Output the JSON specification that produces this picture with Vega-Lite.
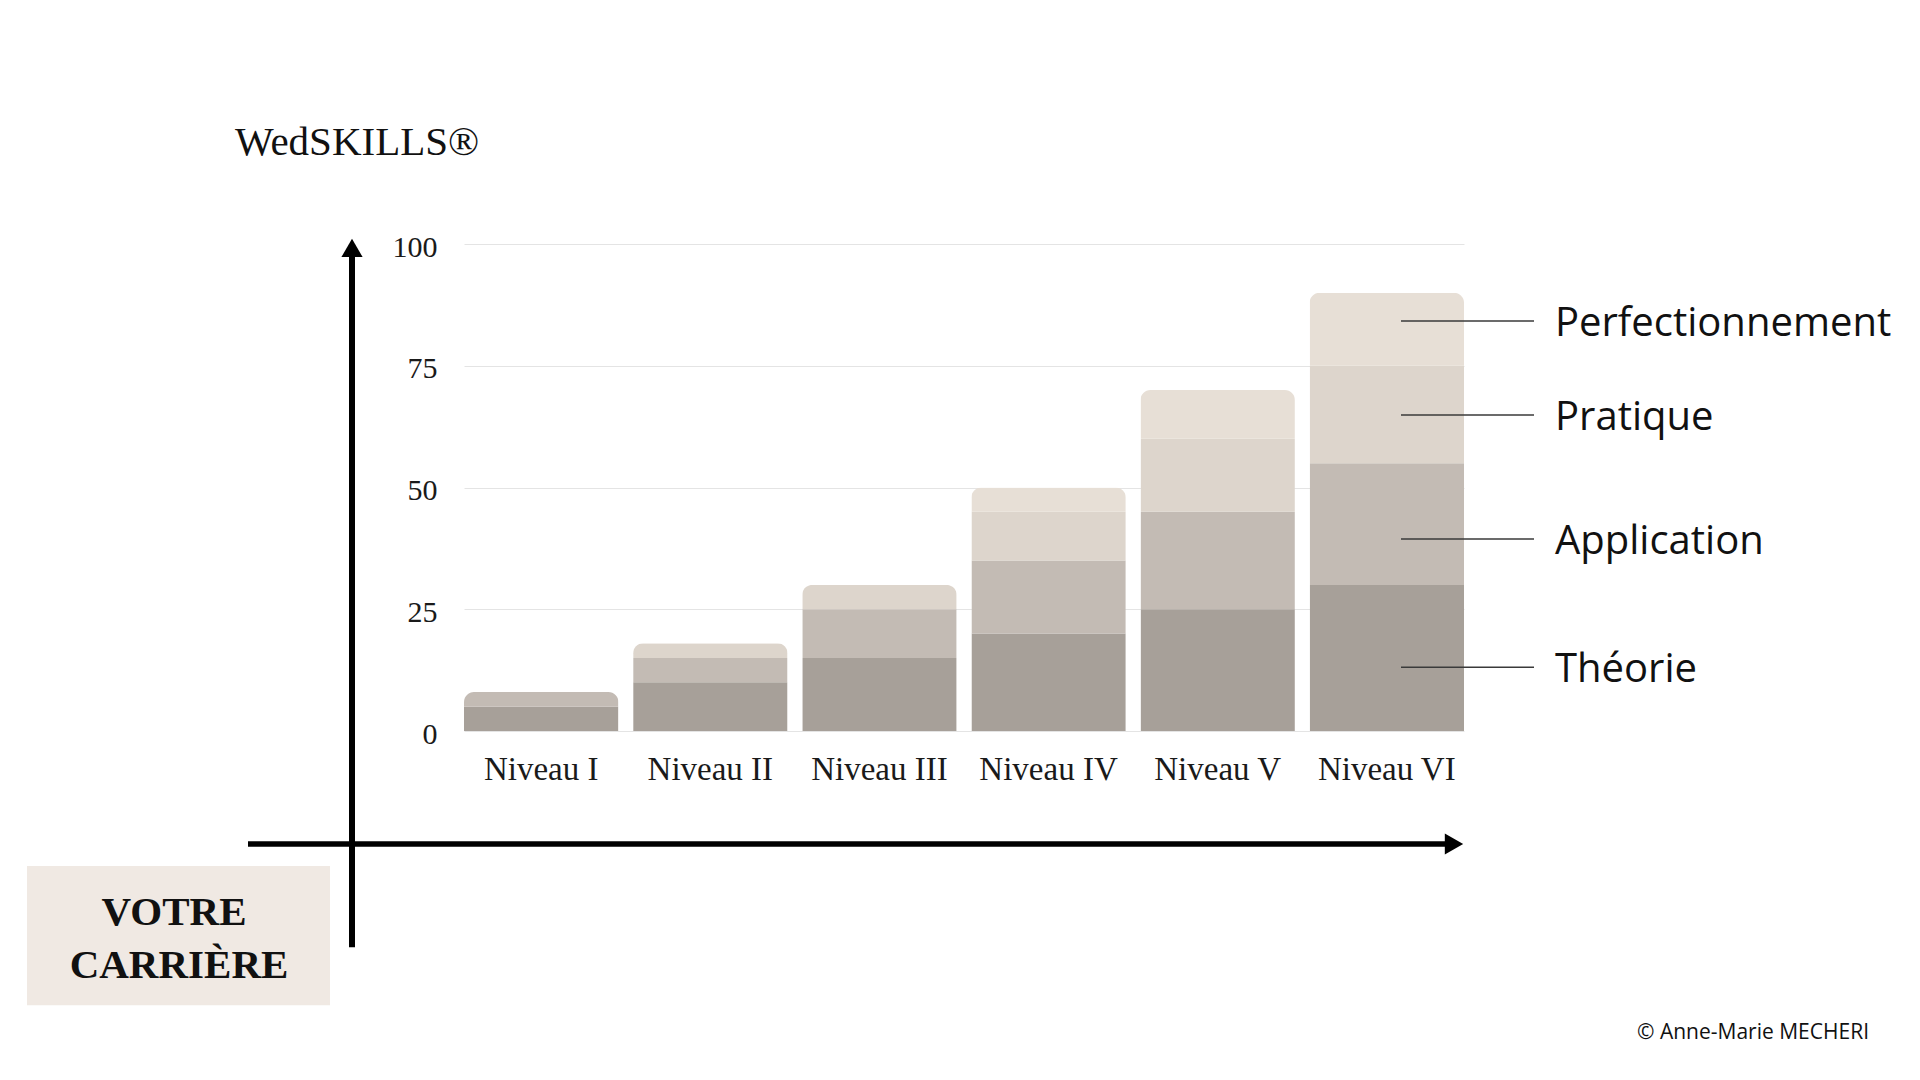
{
  "$schema": "https://vega.github.io/schema/vega-lite/v6.json",
  "width": 1000,
  "height": 487,
  "autosize": "none",
  "padding": {"left": 464, "top": 244, "right": 456, "bottom": 349},
  "background": "white",
  "config": {"view": {"stroke": null}},
  "title": {
    "text": "WedSKILLS®",
    "anchor": "start",
    "frame": "group",
    "dx": -229,
    "offset": 36,
    "baseline": "alphabetic",
    "font": "Liberation Serif",
    "fontSize": 41,
    "fontWeight": "normal",
    "color": "#111111"
  },
  "datasets": {
    "niveaux": [
      {"niveau": "Niveau I", "composante": "Théorie", "valeur": 5},
      {"niveau": "Niveau I", "composante": "Application", "valeur": 3},
      {"niveau": "Niveau II", "composante": "Théorie", "valeur": 10},
      {"niveau": "Niveau II", "composante": "Application", "valeur": 5},
      {"niveau": "Niveau II", "composante": "Pratique", "valeur": 3},
      {"niveau": "Niveau III", "composante": "Théorie", "valeur": 15},
      {"niveau": "Niveau III", "composante": "Application", "valeur": 10},
      {"niveau": "Niveau III", "composante": "Pratique", "valeur": 5},
      {"niveau": "Niveau IV", "composante": "Théorie", "valeur": 20},
      {"niveau": "Niveau IV", "composante": "Application", "valeur": 15},
      {"niveau": "Niveau IV", "composante": "Pratique", "valeur": 10},
      {"niveau": "Niveau IV", "composante": "Perfectionnement", "valeur": 5},
      {"niveau": "Niveau V", "composante": "Théorie", "valeur": 25},
      {"niveau": "Niveau V", "composante": "Application", "valeur": 20},
      {"niveau": "Niveau V", "composante": "Pratique", "valeur": 15},
      {"niveau": "Niveau V", "composante": "Perfectionnement", "valeur": 10},
      {"niveau": "Niveau VI", "composante": "Théorie", "valeur": 30},
      {"niveau": "Niveau VI", "composante": "Application", "valeur": 25},
      {"niveau": "Niveau VI", "composante": "Pratique", "valeur": 20},
      {"niveau": "Niveau VI", "composante": "Perfectionnement", "valeur": 15}
    ],
    "libelles": [
      {"composante": "Perfectionnement", "ancre": 84.2},
      {"composante": "Pratique", "ancre": 64.9},
      {"composante": "Application", "ancre": 39.4},
      {"composante": "Théorie", "ancre": 13.1}
    ],
    "un": [{}]
  },
  "layer": [
    {
      "data": {"name": "niveaux"},
      "transform": [
        {"calculate": "indexof(['Théorie', 'Application', 'Pratique', 'Perfectionnement'], datum.composante)", "as": "rang"}
      ],
      "mark": {"type": "bar", "cornerRadiusTopLeft": 10, "cornerRadiusTopRight": 10},
      "encoding": {
        "x": {
          "field": "niveau", "type": "nominal",
          "sort": ["Niveau I", "Niveau II", "Niveau III", "Niveau IV", "Niveau V", "Niveau VI"],
          "scale": {"paddingInner": 0.087, "paddingOuter": 0},
          "axis": {"title": null, "labelAngle": 0, "ticks": false, "domain": false, "grid": false,
                   "labelFont": "Liberation Serif", "labelFontSize": 33, "labelColor": "#1a1a1a", "labelPadding": 22}
        },
        "y": {
          "field": "valeur", "type": "quantitative", "stack": "zero",
          "scale": {"domain": [0, 100], "nice": false},
          "axis": {"title": null, "values": [0, 25, 50, 75, 100], "ticks": false, "domain": false, "grid": true,
                   "gridColor": "#e4e4e4", "gridWidth": 1, "labelOffset": 3,
                   "labelFont": "Liberation Serif", "labelFontSize": 30, "labelColor": "#1a1a1a", "labelPadding": 27}
        },
        "color": {
          "field": "composante", "type": "nominal",
          "scale": {"domain": ["Théorie", "Application", "Pratique", "Perfectionnement"],
                    "range": ["#a7a099", "#c3bbb4", "#ddd5cc", "#e7dfd6"]},
          "legend": null
        },
        "order": {"field": "rang", "type": "quantitative", "sort": "ascending"}
      }
    },
    {
      "data": {"name": "libelles"},
      "mark": {"type": "rule", "color": "#3a3a3a", "strokeWidth": 1.5},
      "encoding": {
        "x": {"datum": 93.7, "type": "quantitative", "scale": {"domain": [0, 100], "nice": false, "zero": false}, "axis": null},
        "x2": {"datum": 107.0},
        "y": {"field": "ancre", "type": "quantitative", "title": null, "scale": {"domain": [0, 100], "nice": false}}
      }
    },
    {
      "data": {"name": "libelles"},
      "mark": {"type": "text", "align": "left", "baseline": "middle", "dy": 3, "font": "Open Sans", "fontSize": 40, "color": "#111111"},
      "encoding": {
        "x": {"datum": 109.1, "type": "quantitative", "scale": {"domain": [0, 100], "nice": false, "zero": false}, "axis": null},
        "y": {"field": "ancre", "type": "quantitative", "title": null, "scale": {"domain": [0, 100], "nice": false}},
        "text": {"field": "composante"}
      }
    },
    {
      "data": {"name": "un"},
      "mark": {"type": "rect", "color": "#f0e9e3"},
      "encoding": {
        "x": {"datum": -43.7, "type": "quantitative", "scale": {"domain": [0, 100], "nice": false, "zero": false}, "axis": null},
        "x2": {"datum": -13.4},
        "y": {"datum": -27.7, "type": "quantitative", "title": null, "scale": {"domain": [0, 100], "nice": false}},
        "y2": {"datum": -56.3}
      }
    },
    {
      "data": {"name": "un"},
      "mark": {"type": "rule", "color": "#000000", "strokeWidth": 6, "strokeCap": "butt"},
      "encoding": {
        "x": {"datum": -11.2, "type": "quantitative", "scale": {"domain": [0, 100], "nice": false, "zero": false}, "axis": null},
        "y": {"datum": -44.4, "type": "quantitative", "title": null, "scale": {"domain": [0, 100], "nice": false}},
        "y2": {"datum": 98.5}
      }
    },
    {
      "data": {"name": "un"},
      "mark": {"type": "rule", "color": "#000000", "strokeWidth": 5.5, "strokeCap": "butt"},
      "encoding": {
        "x": {"datum": -21.6, "type": "quantitative", "scale": {"domain": [0, 100], "nice": false, "zero": false}, "axis": null},
        "x2": {"datum": 98.8},
        "y": {"datum": -23.2, "type": "quantitative", "title": null, "scale": {"domain": [0, 100], "nice": false}}
      }
    },
    {
      "data": {"name": "un"},
      "mark": {"type": "point", "shape": "triangle-up", "filled": true, "size": 450, "color": "#000000", "opacity": 1},
      "encoding": {
        "x": {"datum": -11.2, "type": "quantitative", "scale": {"domain": [0, 100], "nice": false, "zero": false}, "axis": null},
        "y": {"datum": 99.2, "type": "quantitative", "title": null, "scale": {"domain": [0, 100], "nice": false}}
      }
    },
    {
      "data": {"name": "un"},
      "mark": {"type": "point", "shape": "triangle-right", "filled": true, "size": 450, "color": "#000000", "opacity": 1},
      "encoding": {
        "x": {"datum": 99.0, "type": "quantitative", "scale": {"domain": [0, 100], "nice": false, "zero": false}, "axis": null},
        "y": {"datum": -23.2, "type": "quantitative", "title": null, "scale": {"domain": [0, 100], "nice": false}}
      }
    },
    {
      "data": {"name": "un"},
      "mark": {"type": "text", "text": "VOTRE", "align": "center", "baseline": "alphabetic", "font": "Liberation Serif", "fontWeight": "bold", "fontSize": 41, "color": "#111111"},
      "encoding": {
        "x": {"datum": -29.0, "type": "quantitative", "scale": {"domain": [0, 100], "nice": false, "zero": false}, "axis": null},
        "y": {"datum": -39.9, "type": "quantitative", "title": null, "scale": {"domain": [0, 100], "nice": false}}
      }
    },
    {
      "data": {"name": "un"},
      "mark": {"type": "text", "text": "CARRIÈRE", "align": "center", "baseline": "alphabetic", "font": "Liberation Serif", "fontWeight": "bold", "fontSize": 41, "color": "#111111"},
      "encoding": {
        "x": {"datum": -28.5, "type": "quantitative", "scale": {"domain": [0, 100], "nice": false, "zero": false}, "axis": null},
        "y": {"datum": -50.7, "type": "quantitative", "title": null, "scale": {"domain": [0, 100], "nice": false}}
      }
    },
    {
      "data": {"name": "un"},
      "mark": {"type": "text", "text": "© Anne-Marie MECHERI", "align": "right", "baseline": "alphabetic", "font": "Open Sans", "fontSize": 21, "color": "#111111"},
      "encoding": {
        "x": {"datum": 140.5, "type": "quantitative", "scale": {"domain": [0, 100], "nice": false, "zero": false}, "axis": null},
        "y": {"datum": -63.3, "type": "quantitative", "title": null, "scale": {"domain": [0, 100], "nice": false}}
      }
    }
  ],
  "resolve": {"scale": {"x": "independent"}}
}
